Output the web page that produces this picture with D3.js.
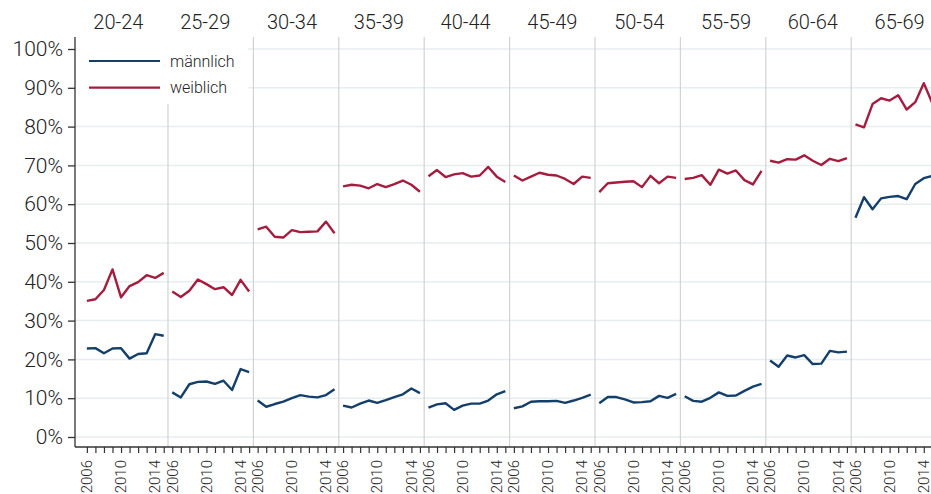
<!DOCTYPE html>
<html>
<head>
<meta charset="utf-8">
<script src="https://cdn.jsdelivr.net/npm/d3@7"></script>
<style>
  html, body { margin: 0; padding: 0; background: #fff; }
  svg { display: block; }
  text { font-family: Roboto, "Liberation Sans", Arial, sans-serif; font-weight: 300; fill: #222; }
</style>
</head>
<body>
<svg id="chart" width="931" height="494"></svg>
<script>
// ---- data ----
const groups = ["20-24","25-29","30-34","35-39","40-44","45-49","50-54","55-59","60-64","65-69"];
const years = [2006,2007,2008,2009,2010,2011,2012,2013,2014,2015];
const yearLabels = [2006, 2010, 2014];
const yTicks = [0,10,20,30,40,50,60,70,80,90,100];
const seriesNames = ["männlich", "weiblich"];

const maleRates = [
  [22.8, 22.9, 21.6, 22.8, 22.9, 20.2, 21.4, 21.6, 26.5, 26.1],
  [11.5, 10.2, 13.6, 14.2, 14.3, 13.7, 14.5, 12.1, 17.5, 16.7],
  [9.4, 7.8, 8.5, 9.1, 10.0, 10.8, 10.4, 10.2, 10.8, 12.3],
  [8.1, 7.6, 8.6, 9.4, 8.8, 9.5, 10.3, 11.0, 12.5, 11.3],
  [7.6, 8.4, 8.7, 7.0, 8.1, 8.6, 8.6, 9.4, 11.0, 11.8],
  [7.4, 7.9, 9.1, 9.2, 9.2, 9.3, 8.8, 9.4, 10.1, 10.9],
  [8.7, 10.3, 10.3, 9.7, 8.9, 9.0, 9.2, 10.6, 10.1, 11.1],
  [10.5, 9.3, 9.1, 10.1, 11.5, 10.6, 10.7, 11.9, 13.0, 13.7],
  [19.7, 18.1, 21.0, 20.5, 21.1, 18.8, 18.9, 22.2, 21.8, 22.0],
  [56.5, 61.8, 58.7, 61.5, 61.9, 62.1, 61.3, 65.2, 66.7, 67.3]
];
const femaleRates = [
  [35.1, 35.5, 37.9, 43.2, 36.0, 38.9, 39.9, 41.7, 41.0, 42.3],
  [37.5, 36.1, 37.7, 40.6, 39.4, 38.1, 38.6, 36.6, 40.5, 37.5],
  [53.5, 54.2, 51.6, 51.4, 53.3, 52.8, 52.9, 53.0, 55.5, 52.5],
  [64.6, 65.0, 64.8, 64.1, 65.2, 64.4, 65.2, 66.1, 65.0, 63.2],
  [67.2, 68.8, 67.0, 67.7, 68.0, 67.1, 67.4, 69.6, 67.1, 65.7],
  [67.4, 66.1, 67.1, 68.1, 67.6, 67.4, 66.5, 65.2, 67.1, 66.8],
  [63.1, 65.4, 65.6, 65.8, 65.9, 64.4, 67.3, 65.4, 67.1, 66.8],
  [66.5, 66.8, 67.5, 65.0, 68.9, 67.9, 68.7, 66.2, 65.1, 68.6],
  [71.2, 70.7, 71.6, 71.5, 72.6, 71.2, 70.1, 71.7, 71.1, 71.9],
  [80.6, 79.8, 85.8, 87.3, 86.7, 88.1, 84.4, 86.3, 91.2, 86.0]
];

// ---- layout ----
const W = 931, H = 494;
const axisX = 75, plotTop = 37, axisY = 447;
const panelStart = 82.6, panelW = 85.4;
const colors = { male: "#143f6b", female: "#a51c3e" };

const svg = d3.select("#chart");

const panel = d3.scaleBand().domain(groups).range([panelStart, panelStart + panelW * groups.length]).paddingInner(0).paddingOuter(0);
const labelBand = d3.scaleBand().domain(groups).range([75, 75 + 86.8 * groups.length]);
const xInner = d3.scaleLinear().domain([2005.5, 2015.5]).range([0, panel.bandwidth()]);
const y = d3.scaleLinear().domain([0, 100]).range([437, 49]);

// gridlines
svg.append("g").selectAll("line").data(yTicks).join("line")
  .attr("x1", axisX).attr("x2", W)
  .attr("y1", d => y(d)).attr("y2", d => y(d))
  .attr("stroke", "#e6eeef").attr("stroke-width", 1.5);

// panel separators
svg.append("g").selectAll("line").data(groups.slice(1)).join("line")
  .attr("x1", d => panel(d)).attr("x2", d => panel(d))
  .attr("y1", plotTop).attr("y2", axisY)
  .attr("stroke", "#d3d3d3").attr("stroke-width", 1.2);

// legend background
svg.append("rect").attr("x", axisX + 1).attr("y", plotTop).attr("width", 172).attr("height", 67).attr("fill", "#fff");

// legend
const legend = svg.append("g");
seriesNames.forEach((name, i) => {
  const ly = 61 + i * 26.7;
  legend.append("line").attr("x1", 89).attr("x2", 160).attr("y1", ly).attr("y2", ly)
    .attr("stroke", i === 0 ? colors.male : colors.female).attr("stroke-width", 2.2);
  legend.append("text").attr("x", 170).attr("y", ly).attr("dy", "0.35em")
    .attr("font-size", 16).text(name);
});

// facet labels
svg.append("g").selectAll("text").data(groups).join("text")
  .attr("x", d => labelBand(d) + labelBand.bandwidth() / 2)
  .attr("y", 29.3).attr("text-anchor", "middle").attr("font-size", 20).text(d => d);

// y axis
const yAxis = svg.append("g").attr("transform", `translate(${axisX},0)`)
  .call(d3.axisLeft(y).tickValues(yTicks).tickFormat(d => d + "%").tickSize(7).tickPadding(5));
yAxis.select(".domain").remove();
yAxis.selectAll(".tick line").attr("stroke", "#333").attr("stroke-width", 1.3);
yAxis.selectAll(".tick text").attr("font-size", 21).attr("fill", "#222")
  .attr("font-family", "Roboto, 'Liberation Sans', Arial, sans-serif").attr("font-weight", 300);
svg.append("line").attr("x1", axisX).attr("x2", axisX).attr("y1", plotTop).attr("y2", axisY)
  .attr("stroke", "#333").attr("stroke-width", 1.3);

// x axis
svg.append("line").attr("x1", axisX).attr("x2", W).attr("y1", axisY).attr("y2", axisY)
  .attr("stroke", "#333").attr("stroke-width", 1.3);
groups.forEach(g => {
  const gx = svg.append("g").attr("transform", `translate(${panel(g)},${axisY})`)
    .call(d3.axisBottom(xInner).tickValues(years).tickSize(6).tickFormat(""));
  gx.select(".domain").remove();
  gx.selectAll(".tick line").attr("stroke", "#333").attr("stroke-width", 1.2);
  gx.selectAll(".lbl").data(yearLabels).join("text").attr("class", "lbl")
    .attr("transform", d => `translate(${xInner(d)},13) rotate(-90)`)
    .attr("text-anchor", "end").attr("dy", "0.35em").attr("font-size", 15).text(d => d);
});

// lines
const line = d3.line().x(d => d.x).y(d => y(d.v));
groups.forEach((g, gi) => {
  [[maleRates, colors.male], [femaleRates, colors.female]].forEach(([arr, col]) => {
    const pts = years.map((yr, k) => ({ x: panel(g) + xInner(yr), v: arr[gi][k] }));
    svg.append("path").datum(pts).attr("d", line)
      .attr("fill", "none").attr("stroke", col).attr("stroke-width", 2.4)
      .attr("stroke-linejoin", "round").attr("stroke-linecap", "butt");
  });
});
</script>
</body>
</html>
